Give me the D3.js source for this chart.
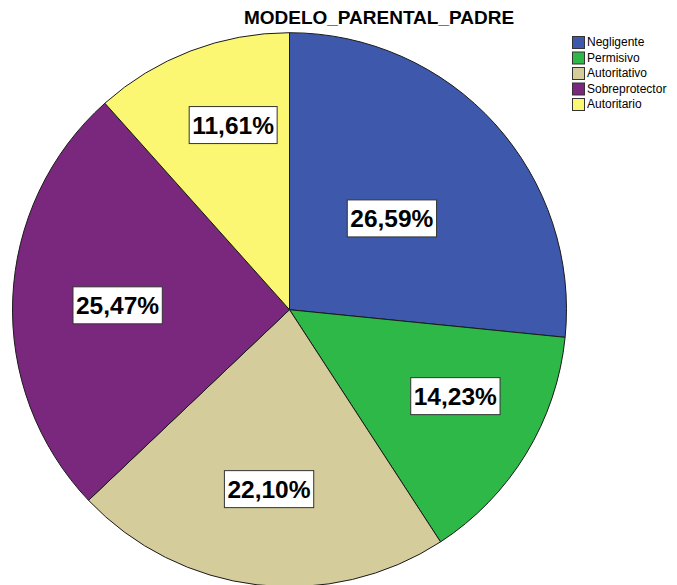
<!DOCTYPE html>
<html lang="en">
<head>
    <meta charset="UTF-8">
    <title>MODELO_PARENTAL_PADRE</title>
    <script src="https://d3js.org/d3.v7.min.js"></script>
    <style>
        body { margin: 0; background: #fff; font-family: "Liberation Sans", Arial, sans-serif; }
        .title { font-size: 19px; font-weight: bold; fill: #000; }
        .legend text { font-size: 12px; fill: #000; }
        .pct { font-size: 24.5px; font-weight: bold; fill: #000; }
    </style>
</head>
<body>
    <svg width="677" height="585"></svg>
    <script>
        const categories = ["Negligente", "Permisivo", "Autoritativo", "Sobreprotector", "Autoritario"];
        const values = [26.59, 14.23, 22.10, 25.47, 11.61];
        const colors = ["#3e58ac", "#2eb848", "#d4cc9a", "#79287d", "#fbf772"];

        // SPSS puts each label at its own spot: distance (fraction of r) and a small turn in degrees
        const labelRadius = [0.495, 0.675, 0.652, 0.621, 0.697];
        const labelTurn = [0.4, -3.8, -0.2, -0.9, 3.9];

        const svg = d3.select("svg");
        const cx = 289.5, cy = 309.7, r = 277;

        svg.append("text")
            .attr("class", "title")
            .attr("x", 379)
            .attr("y", 24)
            .attr("text-anchor", "middle")
            .text("MODELO_PARENTAL_PADRE");

        const color = d3.scaleOrdinal().domain(categories).range(colors);

        const pie = d3.pie().sort(null).value(d => d.value);
        const data = categories.map((c, i) => ({ name: c, value: values[i], idx: i }));
        const arcs = pie(data);

        const arc = d3.arc().innerRadius(0).outerRadius(r);

        const g = svg.append("g").attr("transform", `translate(${cx},${cy})`);

        g.selectAll("path.slice")
            .data(arcs)
            .enter()
            .append("path")
            .attr("class", "slice")
            .attr("d", arc)
            .attr("fill", d => color(d.data.name))
            .attr("stroke", "#1a1a1a")
            .attr("stroke-width", 1);

        const fmt = v => v.toFixed(2).replace(".", ",") + "%";

        const labels = g.selectAll("g.lab")
            .data(arcs)
            .enter()
            .append("g")
            .attr("class", "lab")
            .attr("transform", d => {
                const i = d.data.idx;
                const lr = r * labelRadius[i];
                const a = (d.startAngle + d.endAngle) / 2 + labelTurn[i] * Math.PI / 180;
                return `translate(${lr * Math.sin(a)},${-lr * Math.cos(a)})`;
            });

        labels.append("text")
            .attr("class", "pct")
            .attr("text-anchor", "middle")
            .attr("dy", "0.36em")
            .text(d => fmt(d.data.value));

        labels.each(function () {
            const t = d3.select(this).select("text");
            const b = t.node().getBBox();
            d3.select(this).insert("rect", "text")
                .attr("x", b.x - 3)
                .attr("y", -18.5)
                .attr("width", b.width + 6)
                .attr("height", 37)
                .attr("fill", "#fff")
                .attr("stroke", "#333")
                .attr("stroke-width", 1);
        });

        const ly = d3.scalePoint().domain(categories).range([42, 104]);

        const legend = svg.append("g").attr("class", "legend");
        const items = legend.selectAll("g")
            .data(categories)
            .enter()
            .append("g")
            .attr("transform", d => `translate(572,${ly(d)})`);

        items.append("rect")
            .attr("x", 0.5)
            .attr("y", -5.5)
            .attr("width", 12)
            .attr("height", 12)
            .attr("fill", d => color(d))
            .attr("stroke", "#333")
            .attr("stroke-width", 1);

        items.append("text")
            .attr("x", 15)
            .attr("y", 0)
            .attr("dy", "0.36em")
            .text(d => d);
    </script>
</body>
</html>
